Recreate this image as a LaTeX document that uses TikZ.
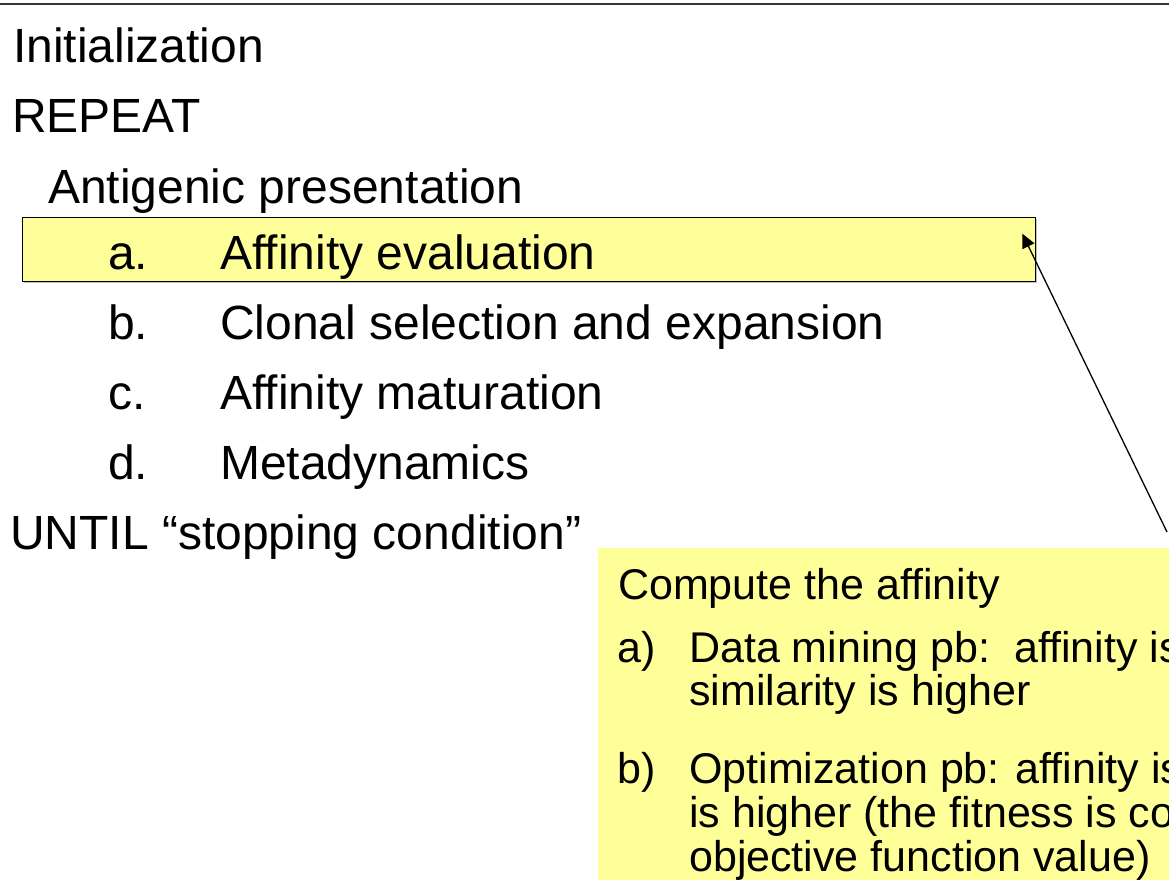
\documentclass[tikz,border=0pt]{standalone}
\usepackage{fontspec}
\setmainfont{Liberation Sans}
\usetikzlibrary{arrows.meta,calc}
\definecolor{noteyellow}{HTML}{FFFF99}
\begin{document}
\begin{tikzpicture}[x=1pt,y=-1pt,
  steptext/.style={font=\fontsize{48}{58}\selectfont, anchor=base west, inner sep=0pt},
  notetext/.style={font=\fontsize{43}{52}\selectfont, anchor=base west, inner sep=0pt}]
\useasboundingbox (0,0) rectangle (1169,879);
\clip (0,0) rectangle (1169,879);

% rule across the top
\draw[line width=2pt, black!80] (0,4) -- (1169,4);

% highlighted step (with a faint drop shadow)
\fill[black!25] (23.5,218.5) rectangle (1036.5,282.5);
\node[draw=black, line width=1.3pt, fill=noteyellow, inner sep=0pt,
      minimum width=1013pt, minimum height=64pt, anchor=north west] (affbox) at (22,217) {};

% pseudo-code
\node[steptext] (init)   at (13,62)  {Initialization};
\node[steptext] (repeat) at (12,132) {REPEAT};
\node[steptext] (antig)  at (48,203) {Antigenic presentation};
\node[steptext] (la)     at (108,269) {a.};
\node[steptext] (ta)     at (220,269) {Affinity evaluation};
\node[steptext] (lb)     at (108,339) {b.};
\node[steptext] (tb)     at (220,339) {Clonal selection and expansion};
\node[steptext] (lc)     at (108,409) {c.};
\node[steptext] (tc)     at (220,409) {Affinity maturation};
\node[steptext] (ld)     at (108,479) {d.};
\node[steptext] (td)     at (220,479) {Metadynamics};
\node[steptext] (until)  at (10,549) {UNTIL “stopping condition”};

% explanatory note (runs past the right and bottom edges)
\node[fill=noteyellow, inner sep=0pt, minimum width=700pt, minimum height=400pt,
      anchor=north west] (note) at (598,548) {};
\node[notetext] (n0)  at (618,599) {Compute the affinity};
\node[notetext] (n1a) at (617,662) {a)};
\node[notetext] (n1b) at (689,662) {Data mining pb:\hspace{24pt}affinity is};
\node[notetext] (n1c) at (689,705) {similarity is higher};
\node[notetext] (n2a) at (617,783) {b)};
\node[notetext] (n2b) at (689,783) {Optimization pb: affinity is};
\node[notetext] (n2c) at (689,827) {is higher (the fitness is co};
\node[notetext] (n2d) at (689,871) {objective function value)};

% pointer from the note to the highlighted step
\coordinate (tail) at (1167,532);
\coordinate (tip) at ($(affbox.east)+(-14,-16)$);
\draw[line width=1.3pt, -{Triangle[length=14pt,width=13pt]}] (tail) -- (tip);
\end{tikzpicture}
\end{document}
